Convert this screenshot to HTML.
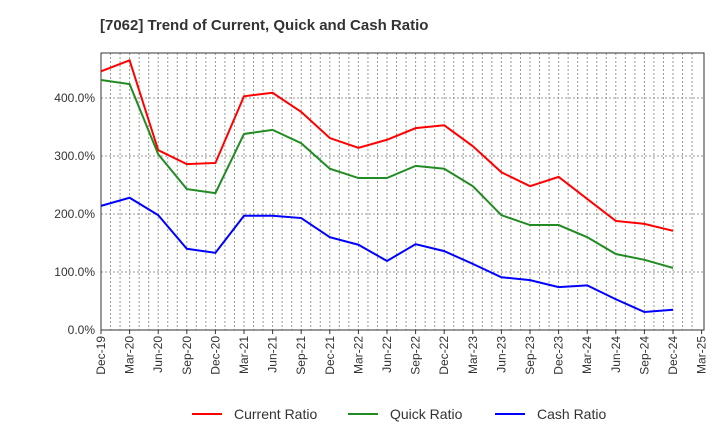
<!DOCTYPE html>
<html><head><meta charset="utf-8"><style>
body{margin:0;background:#fff;font-family:"Liberation Sans",sans-serif}
</style></head><body>
<svg width="720" height="440" xmlns="http://www.w3.org/2000/svg" id="c">
<text x="100" y="30" font-size="15" font-weight="bold" fill="#333">[7062]  Trend of Current, Quick and Cash Ratio</text>
</svg>
<script>
const labels=["Dec-19","Mar-20","Jun-20","Sep-20","Dec-20","Mar-21","Jun-21","Sep-21","Dec-21","Mar-22","Jun-22","Sep-22","Dec-22","Mar-23","Jun-23","Sep-23","Dec-23","Mar-24","Jun-24","Sep-24","Dec-24","Mar-25"];
const yTicks=[0,100,200,300,400];
const current=[446,465,310,286,288,403,409,376,331,314,328,348,353,317,272,248,264,226,188,183,171];
const quick=[431,424,303,243,236,338,345,322,278,262,262,283,278,248,198,181,181,160,131,121,107];
const cash=[214,228,198,140,133,197,197,193,160,147,119,148,136,114,91,86,74,77,53,31,35];
const svg=document.getElementById('c');const NS='http://www.w3.org/2000/svg';
const L=101,R=704,T=53,B=330,step=28.6;
const xs=i=>L+i*step, ys=v=>B-v*0.58;
function mk(t,a){const e=document.createElementNS(NS,t);for(const k in a)e.setAttribute(k,a[k]);svg.appendChild(e);return e;}
for(let m=1;m<63;m++){const x=L+m*step/3;if(x>=R)break;
const g=mk('line',{x1:x,x2:x,y1:T,y2:B,stroke:'#999','stroke-dasharray':'2,2','stroke-width':1});

}
yTicks.forEach(v=>{const y=ys(v);
if(v>0){const g=mk('line',{x1:L,x2:R,y1:y,y2:y,stroke:'#999','stroke-dasharray':'2,2'});

}
const t=mk('text',{x:L-6,y:y+4,'text-anchor':'end','font-size':12,fill:'#333'});t.textContent=v.toFixed(1)+'%';

});
const fr=mk('rect',{x:L,y:T,width:R-L,height:B-T,fill:'none',stroke:'#333'});


labels.forEach((s,i)=>{const x=xs(i);
mk('line',{x1:x,x2:x,y1:B,y2:B+4,stroke:'#333'});
const t=mk('text',{transform:`translate(${x+4},${B+6}) rotate(-90)`,'text-anchor':'end','font-size':12,fill:'#333'});t.textContent=s;

});
function line(d,c,n){const p=mk('polyline',{points:d.map((v,i)=>xs(i)+','+ys(v)).join(' '),fill:'none',stroke:c,'stroke-width':2});

}
line(current,'#ff0000','current-ratio-line');line(quick,'#228b22','quick-ratio-line');line(cash,'#0000ff','cash-ratio-line');
[['Current Ratio','#ff0000',192],['Quick Ratio','#228b22',348],['Cash Ratio','#0000ff',495]].forEach(([s,c,x])=>{
const l=mk('line',{x1:x,x2:x+30,y1:414,y2:414,stroke:c,'stroke-width':2});


const t=mk('text',{x:x+42,y:419,'font-size':14,fill:'#333'});t.textContent=s;

});
</script>
</body></html>
